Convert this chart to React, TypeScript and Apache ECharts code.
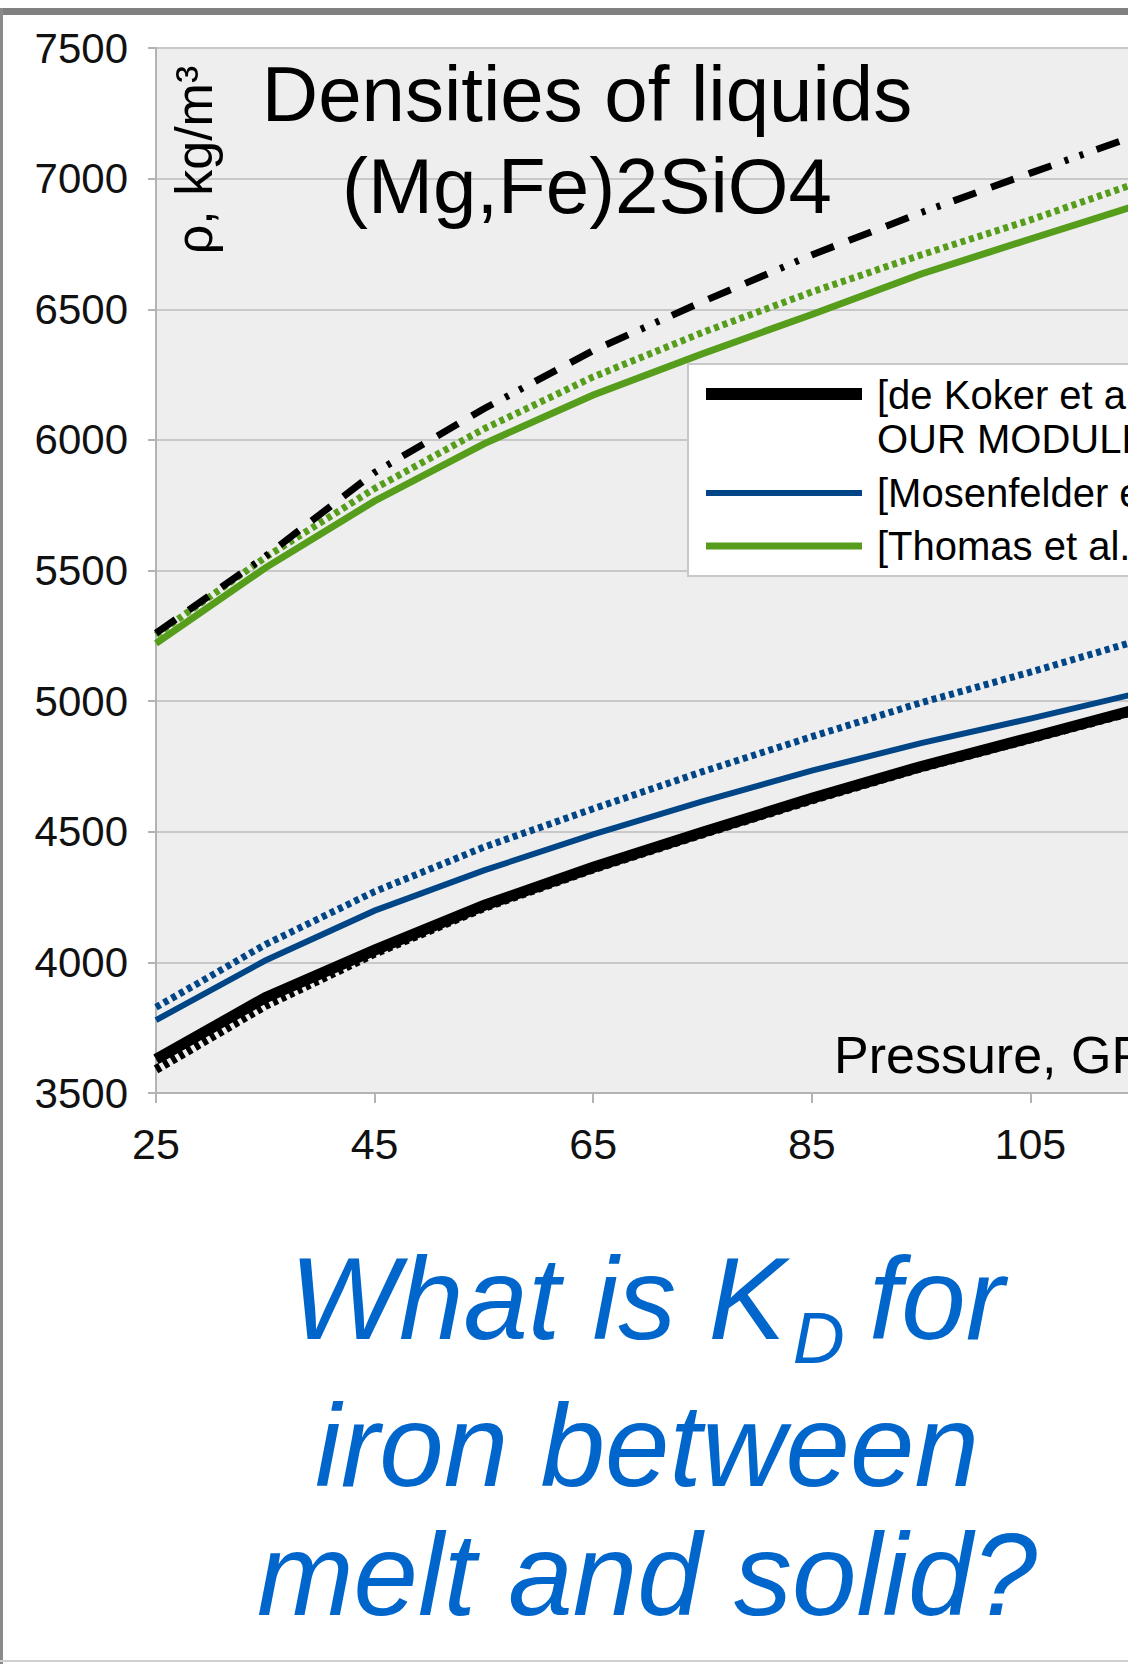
import React, { useEffect, useRef } from "react";
import * as echarts from "echarts";

// Pressure, GPa
const pressure = [25, 35, 45, 55, 65, 75, 85, 95, 105, 115];
// Densities, kg/m3
const deKokerSolid = [3629, 3865, 4047, 4218, 4364, 4498, 4628, 4750, 4860, 4972];
const deKokerDotted = [3590, 3835, 4035, 4210, 4358, 4492, 4622, 4745, 4855, 4967];
const mosenfelderSolid = [3779, 4007, 4198, 4352, 4490, 4616, 4734, 4839, 4933, 5032];
const mosenfelderDotted = [3828, 4068, 4271, 4441, 4588, 4730, 4864, 4994, 5111, 5234];
const thomasSolid = [5221, 5510, 5766, 5985, 6172, 6330, 6480, 6635, 6769, 6901];
const thomasDotted = [5254, 5550, 5814, 6042, 6241, 6411, 6566, 6708, 6842, 6987];
const upperDashDot = [5260, 5554, 5875, 6119, 6342, 6529, 6708, 6870, 7021, 7170];

const xTicks = [25, 45, 65, 85, 105, 125];
const legendLabels = [
  "[de Koker et al., 2013]",
  "OUR MODULE",
  "[Mosenfelder et al., 2009]",
  "[Thomas et al., 2012]",
];
const titleLines = ["Densities of liquids", "(Mg,Fe)2SiO4"];
const yName = "ρ, kg/m³";
const xName = "Pressure, GPa";

const FONT = '"Liberation Sans", Arial, sans-serif';
const BLACK = "#000000";
const BLUE = "#004586";
const GREEN = "#579d1c";

const pts = (vals: number[]) => pressure.map((p, i) => [p, vals[i]]);

export default function App() {
  const ref = useRef<HTMLDivElement | null>(null);

  useEffect(() => {
    if (!ref.current) return;
    const chart = echarts.init(ref.current, undefined, { renderer: "svg" });
    const mk = (name: string, data: number[], color: string, width: number, type: any, z: number) => ({
      name,
      type: "line",
      data: pts(data),
      showSymbol: false,
      symbol: "none",
      z,
      lineStyle: { color, width, type, cap: "butt", join: "miter" },
      emphasis: { disabled: true },
    });
    const option: any = {
      animation: false,
      backgroundColor: "transparent",
      textStyle: { fontFamily: FONT },
      grid: {
        left: 156,
        top: 48,
        width: 1093,
        height: 1045,
        show: true,
        backgroundColor: "#eeeeee",
        borderWidth: 0,
      },
      xAxis: {
        type: "value",
        min: 25,
        max: 125,
        axisLine: { show: true, onZero: false, lineStyle: { color: "#b3b3b3", width: 2 } },
        axisTick: { show: true, customValues: xTicks, length: 10, lineStyle: { color: "#b3b3b3", width: 2 } },
        axisLabel: {
          customValues: xTicks,
          margin: 29,
          fontSize: 43,
          color: "#111",
          fontFamily: FONT,
          formatter: (v: number) => String(v),
        },
        splitLine: { show: false },
      },
      yAxis: {
        type: "value",
        min: 3500,
        max: 7500,
        interval: 500,
        axisLine: { show: true, lineStyle: { color: "#b3b3b3", width: 2 } },
        axisTick: { show: true, length: 8, lineStyle: { color: "#b3b3b3", width: 2 } },
        axisLabel: {
          margin: 28,
          fontSize: 42,
          color: "#111",
          fontFamily: FONT,
          formatter: (v: number) => String(v),
        },
        splitLine: { show: true, lineStyle: { color: "#c8c8c8", width: 2 } },
      },
      series: [
        mk("Thomas solid", thomasSolid, GREEN, 7, "solid", 2),
        mk("Thomas dotted", thomasDotted, GREEN, 7, [5, 4], 3),
        mk("Upper dash-dot", upperDashDot, BLACK, 7, [24, 16, 24, 16, 24, 14, 4, 12, 4, 14], 4),
        mk("de Koker dotted", deKokerDotted, BLACK, 9, [5, 4], 2),
        mk("de Koker solid", deKokerSolid, BLACK, 11, "solid", 3),
        mk("Mosenfelder dotted", mosenfelderDotted, BLUE, 7, [5, 4], 2),
        mk("Mosenfelder solid", mosenfelderSolid, BLUE, 6, "solid", 3),
      ],
      graphic: [
        {
          type: "text", x: 587, y: 94, z: 50,
          style: { text: titleLines[0], fontSize: 78, fontFamily: FONT, fill: "#000", align: "center", verticalAlign: "middle" },
        },
        {
          type: "text", x: 587, y: 186, z: 50,
          style: { text: titleLines[1], fontSize: 78, fontFamily: FONT, fill: "#000", align: "center", verticalAlign: "middle" },
        },
        {
          type: "text", x: 194, y: 160, rotation: Math.PI / 2, z: 50,
          style: { text: yName, fontSize: 52, fontFamily: FONT, fill: "#000", align: "center", verticalAlign: "middle" },
        },
        {
          type: "text", x: 834, y: 1055, z: 50,
          style: { text: xName, fontSize: 52, fontFamily: FONT, fill: "#000", align: "left", verticalAlign: "middle" },
        },
        {
          type: "rect", z: 100,
          shape: { x: 688, y: 364, width: 700, height: 212 },
          style: { fill: "#ffffff", stroke: "#c8c8c8", lineWidth: 2 },
        },
        {
          type: "line", z: 101,
          shape: { x1: 706, y1: 394, x2: 862, y2: 394 },
          style: { stroke: BLACK, lineWidth: 12 },
        },
        {
          type: "line", z: 101,
          shape: { x1: 706, y1: 493, x2: 862, y2: 493 },
          style: { stroke: BLUE, lineWidth: 6 },
        },
        {
          type: "line", z: 101,
          shape: { x1: 706, y1: 546, x2: 862, y2: 546 },
          style: { stroke: GREEN, lineWidth: 7 },
        },
        ...[395, 439, 493, 546].map((y, i) => ({
          type: "text", x: 877, y, z: 101,
          style: { text: legendLabels[i], fontSize: 40, fontFamily: FONT, fill: "#000", align: "left", verticalAlign: "middle" },
        })),
      ],
    };
    chart.setOption(option);
    return () => chart.dispose();
  }, []);

  const qStyle: React.CSSProperties = {
    position: "absolute",
    left: 97,
    width: 1100,
    textAlign: "center",
    fontFamily: FONT,
    fontStyle: "italic",
    fontSize: 116,
    lineHeight: "130px",
    height: 130,
    color: "#0066cc",
    whiteSpace: "nowrap",
  };

  return (
    <div
      style={{
        position: "absolute",
        left: 0,
        top: 0,
        width: 1128,
        height: 1664,
        overflow: "hidden",
        background: "#ffffff",
      }}
    >
      <div ref={ref} style={{ position: "absolute", left: 0, top: 0, width: 1400, height: 1664 }} />
      <div style={{ position: "absolute", left: 0, top: 8, width: 1128, height: 7, background: "#808080" }} />
      <div style={{ position: "absolute", left: 0, top: 8, width: 3, height: 1656, background: "#8a8a8a" }} />
      <div style={{ position: "absolute", left: 0, top: 1660, width: 1128, height: 2, background: "#d0d0d0" }} />
      <div style={{ ...qStyle, top: 1234 }}>
        What is K
        <span style={{ fontSize: 72, lineHeight: "130px", verticalAlign: -24, marginLeft: 7, marginRight: -8 }}>D</span>
        {" "}for
      </div>
      <div style={{ ...qStyle, top: 1381 }}>iron between</div>
      <div style={{ ...qStyle, top: 1510 }}>melt and solid?</div>
    </div>
  );
}
